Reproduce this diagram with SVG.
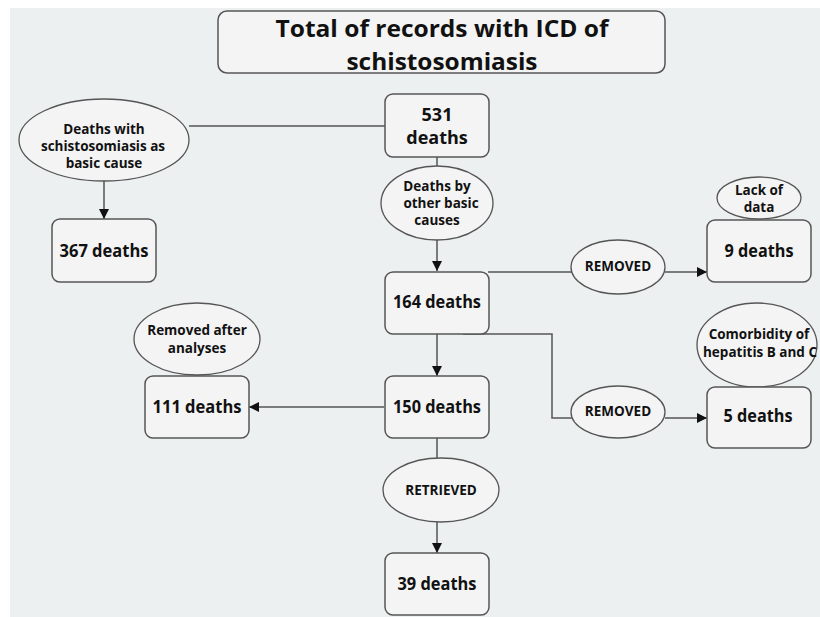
<svg xmlns="http://www.w3.org/2000/svg" width="820" height="617" viewBox="0 0 820 617">
<defs>
<marker id="arr" viewBox="0 0 10 10" refX="10" refY="5" markerWidth="10" markerHeight="10" markerUnits="userSpaceOnUse" orient="auto">
<path d="M0,0 L10,5 L0,10 Z" fill="#111"/>
</marker>
<style>
.bx{fill:#F4F4F4;stroke:#555;stroke-width:1.5}
.el{fill:#F4F4F4;stroke:#555;stroke-width:1.3}
.ln{fill:none;stroke:#555;stroke-width:1.5}
.t{font-family:"Open Sans","Liberation Sans",sans-serif;font-weight:bold;fill:#111;text-anchor:middle}
.big{font-size:17.5px}
.sm{font-size:13.5px}
.ttl{font-size:24px}
</style>
</defs>
<rect x="10" y="8" width="810" height="609" fill="#ECF0F1"/>
<g id="connectors">
<path class="ln" d="M189,126 H385"/>
<path class="ln" d="M104,181 V219" marker-end="url(#arr)"/>
<path class="ln" d="M437,157 V167"/>
<path class="ln" d="M437,240 V271" marker-end="url(#arr)"/>
<path class="ln" d="M488,272 H572"/>
<path class="ln" d="M665,272 H707" marker-end="url(#arr)"/>
<path class="ln" d="M463,334 H552 V418 H572"/>
<path class="ln" d="M665,418 H707" marker-end="url(#arr)"/>
<path class="ln" d="M437,334 V376" marker-end="url(#arr)"/>
<path class="ln" d="M384,407 H249" marker-end="url(#arr)"/>
<path class="ln" d="M437,438 V459"/>
<path class="ln" d="M437,522 V553" marker-end="url(#arr)"/>
</g>
<g id="title">
<rect class="bx" x="218" y="11" width="447" height="62" rx="9"/>
<text class="t ttl" x="442" y="36.5" textLength="333" lengthAdjust="spacingAndGlyphs">Total of records with ICD of</text>
<text class="t ttl" x="442" y="69.5" textLength="191" lengthAdjust="spacingAndGlyphs">schistosomiasis</text>
</g>
<g id="n531">
<rect class="bx" x="385" y="94" width="104" height="63" rx="8"/>
<text class="t" style="font-size:18px" x="437" y="121">531</text>
<text class="t" style="font-size:18px" x="437" y="144">deaths</text>
</g>
<g id="basicCause">
<ellipse class="el" cx="104" cy="140" rx="85" ry="41"/>
<text class="t sm" x="104" y="134">Deaths with</text>
<text class="t sm" x="103" y="151">schistosomiasis as</text>
<text class="t sm" x="104" y="168">basic cause</text>
</g>
<g id="n367">
<rect class="bx" x="52" y="219" width="104" height="63" rx="8"/>
<text class="t big" x="104" y="257" textLength="89" lengthAdjust="spacingAndGlyphs">367 deaths</text>
</g>
<g id="otherCauses">
<ellipse class="el" cx="437" cy="203" rx="56" ry="37"/>
<text class="t sm" x="437" y="191">Deaths by</text>
<text class="t sm" x="441" y="208">other basic</text>
<text class="t sm" x="437" y="225">causes</text>
</g>
<g id="n164">
<rect class="bx" x="385" y="272" width="104" height="62" rx="8"/>
<text class="t big" x="437" y="308" textLength="88" lengthAdjust="spacingAndGlyphs">164 deaths</text>
</g>
<g id="removed1">
<ellipse class="el" cx="618" cy="267" rx="47" ry="27"/>
<text class="t sm" x="618" y="271">REMOVED</text>
</g>
<g id="lackData">
<ellipse class="el" cx="759" cy="198" rx="42" ry="21"/>
<text class="t sm" x="759" y="195">Lack of</text>
<text class="t sm" x="759" y="212">data</text>
</g>
<g id="n9">
<rect class="bx" x="707" y="220" width="104" height="62" rx="8"/>
<text class="t big" x="759" y="257" textLength="69" lengthAdjust="spacingAndGlyphs">9 deaths</text>
</g>
<g id="comorbidity">
<ellipse class="el" cx="757" cy="345" rx="60" ry="42"/>
<text class="t sm" x="759" y="339">Comorbidity of</text>
<text class="t sm" x="760" y="357" textLength="114" lengthAdjust="spacingAndGlyphs">hepatitis B and C</text>
</g>
<g id="removed2">
<ellipse class="el" cx="618" cy="412" rx="47" ry="26"/>
<text class="t sm" x="618" y="416">REMOVED</text>
</g>
<g id="n5">
<rect class="bx" x="707" y="387" width="104" height="61" rx="8"/>
<text class="t big" x="758" y="422" textLength="69" lengthAdjust="spacingAndGlyphs">5 deaths</text>
</g>
<g id="n150">
<rect class="bx" x="385" y="376" width="104" height="62" rx="8"/>
<text class="t big" x="437" y="413" textLength="88" lengthAdjust="spacingAndGlyphs">150 deaths</text>
</g>
<g id="removedAfter">
<ellipse class="el" cx="197" cy="339" rx="63" ry="36"/>
<text class="t sm" x="197" y="335">Removed after</text>
<text class="t sm" x="197" y="353">analyses</text>
</g>
<g id="n111">
<rect class="bx" x="145" y="376" width="104" height="62" rx="8"/>
<text class="t big" x="197" y="413" textLength="89" lengthAdjust="spacingAndGlyphs">111 deaths</text>
</g>
<g id="retrieved">
<ellipse class="el" cx="441" cy="490" rx="58" ry="32"/>
<text class="t sm" x="441" y="495">RETRIEVED</text>
</g>
<g id="n39">
<rect class="bx" x="385" y="553" width="104" height="62" rx="8"/>
<text class="t big" x="437" y="590" textLength="79" lengthAdjust="spacingAndGlyphs">39 deaths</text>
</g>
</svg>
